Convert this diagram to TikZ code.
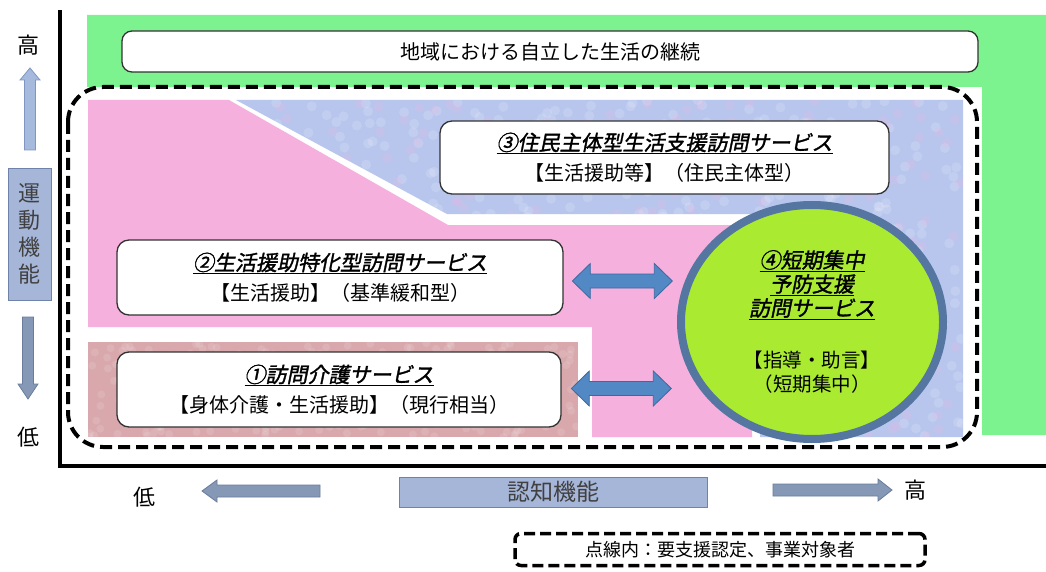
\documentclass[tikz,border=0pt]{standalone}
\usepackage{fontspec}
\newfontfamily\jp{Noto Sans CJK JP}
\newfontfamily\jpti[FakeSlant=0.2,FakeBold=1.5]{Noto Sans CJK JP}
\usetikzlibrary{shapes.geometric,calc}
\definecolor{grn}{RGB}{125,243,143}
\definecolor{pnk}{RGB}{245,176,222}
\definecolor{brn}{RGB}{216,168,172}
\definecolor{blu}{RGB}{184,198,238}
\definecolor{limec}{RGB}{170,235,50}
\definecolor{ring}{RGB}{84,118,160}
\definecolor{darr}{RGB}{82,136,196}
\definecolor{darrl}{RGB}{60,105,160}
\definecolor{garr}{RGB}{133,152,182}
\definecolor{garrl}{RGB}{105,124,155}
\definecolor{larr}{RGB}{166,186,222}
\definecolor{larrl}{RGB}{128,150,192}
\definecolor{lbl}{RGB}{166,182,216}
\definecolor{lbll}{RGB}{110,130,170}
\begin{document}
\begin{tikzpicture}[x=1pt,y=-1pt,
  svc/.style={draw=black!80, line width=1.3pt, fill=white, rounded corners=12pt,
    minimum width=446pt, minimum height=75pt, align=center, inner sep=0pt,
    font=\jp\fontsize{20}{30}\selectfont},
  dashbox/.style={draw=black, line width=4pt, dash pattern=on 12pt off 6pt},
  axlabel/.style={font=\jp\fontsize{22}{26}\selectfont, inner sep=0pt},
  lblbox/.style={draw=lbll, line width=0.8pt, fill=lbl, inner sep=0pt, text=black!75},
  garrow/.style={fill=garr, draw=garrl, line width=0.8pt},
  dbl/.pic={\filldraw[fill=darr,draw=darrl,line width=0.8pt]
    (-50,0) -- (-32,-17.5) -- (-32,-7) -- (32,-7) -- (32,-17.5) -- (50,0)
    -- (32,17.5) -- (32,7) -- (-32,7) -- (-32,17.5) -- cycle;}
]
\useasboundingbox (0,0) rectangle (1046,572);
\fill[white] (0,0) rectangle (1046,572);

% green L-shaped band
\fill[grn] (87,15) -- (1046,15) -- (1046,435) -- (982,435) -- (982,87) -- (87,87) -- cycle;

% blue mottled region
\begin{scope}
  \clip (236,100) -- (963,100) -- (963,437) -- (760,437) -- (760,214) -- (447,214) -- cycle;
  \fill[blu] (230,95) rectangle (970,440);
  \pgfmathsetseed{7}
  \foreach \i in {1,...,700}{
    \pgfmathsetmacro\xx{236+rnd*727}
    \pgfmathsetmacro\yy{100+rnd*337}
    \fill[white, opacity=0.15] (\xx,\yy) circle (5pt);
  }
  \foreach \i in {1,...,400}{
    \pgfmathsetmacro\xx{236+rnd*727}
    \pgfmathsetmacro\yy{100+rnd*337}
    \fill[pnk, opacity=0.18] (\xx,\yy) circle (5pt);
  }
\end{scope}

% pink region
\fill[pnk] (88,100) -- (229,100) -- (448,225) -- (752,225) -- (752,437) -- (592,437)
  -- (592,327) -- (88,327) -- cycle;

% brownish region
\begin{scope}
  \clip (88,342) rectangle (578,437);
  \fill[brn] (88,342) rectangle (578,437);
  \foreach \i in {1,...,300}{
    \pgfmathsetmacro\xx{88+rnd*490}
    \pgfmathsetmacro\yy{342+rnd*95}
    \fill[white, opacity=0.12] (\xx,\yy) circle (4pt);
  }
\end{scope}

% dashed frame
\draw[dashbox, rounded corners=35pt] (68,87) rectangle (977,447);

% axes
\draw[line width=4pt] (60,10) -- (60,466) -- (1046,466);

% top goal box
\node[draw=black!80, line width=1.3pt, fill=white, rounded corners=10pt,
  minimum width=856pt, minimum height=41pt, inner sep=0pt,
  font=\jp\fontsize{20}{24}\selectfont] (goal) at (550,51.5) {地域における自立した生活の継続};

% service boxes
\node[svc, minimum width=449pt, minimum height=73pt] (s3) at (664.5,157.5)
  {{\jpti\fontsize{21}{30}\selectfont\underline{③住民主体型生活支援訪問サービス}}\\【生活援助等】（住民主体型）};
\node[svc] (s2) at (340,277.5)
  {{\jpti\fontsize{21}{30}\selectfont\underline{②生活援助特化型訪問サービス}}\\【生活援助】（基準緩和型）};
\node[svc, minimum width=444pt] (s1) at (339,389.5)
  {{\jpti\fontsize{21}{30}\selectfont\underline{①訪問介護サービス}}\\【身体介護・生活援助】（現行相当）};

% circle
\node[ellipse, draw=ring, line width=8pt, fill=limec, minimum width=262pt,
  minimum height=234pt, inner sep=0pt, align=center,
  font=\jp\fontsize{19.5}{24}\selectfont] (s4) at (812,322)
  {{\jpti\fontsize{21}{24}\selectfont\underline{④短期集中}}\\
   {\jpti\fontsize{21}{24}\selectfont\underline{予防支援}}\\
   {\jpti\fontsize{21}{24}\selectfont\underline{訪問サービス}}\\[28pt]
   【指導・助言】\\（短期集中）};

% double arrows
\pic at ($(s2.east)!0.5!(s2.east -| s4.west)+(2,3.5)$) {dbl};
\pic at ($(s1.east)!0.5!(s1.east -| s4.west)+(2,-1)$) {dbl};

% vertical axis labels
\node[axlabel] (yhi) at (28,45) {高};
\filldraw[fill=larr, draw=larrl, line width=0.8pt]
  (30,68) -- (40,80) -- (35.5,80) -- (35.5,150) -- (24.5,150) -- (24.5,80) -- (20,80) -- cycle;
\node[lblbox, minimum width=43pt, minimum height=132pt, align=center,
  font=\jp\fontsize{22}{27}\selectfont] (ylab) at (29.5,234) {運\\動\\機\\能};
\filldraw[garrow]
  (28,399) -- (38,384) -- (33.5,384) -- (33.5,317) -- (22.5,317) -- (22.5,384) -- (18,384) -- cycle;
\node[axlabel] (ylo) at (28,437) {低};

% horizontal axis labels
\node[axlabel] (xlo) at (144,497) {低};
\filldraw[garrow]
  (202,491) -- (217,480) -- (217,485) -- (320,485) -- (320,497) -- (217,497) -- (217,502) -- cycle;
\node[lblbox, minimum width=308pt, minimum height=30pt,
  font=\jp\fontsize{23}{26}\selectfont] (xlab) at (553,492) {認知機能};
\filldraw[garrow]
  (892,490) -- (878,479) -- (878,484) -- (773,484) -- (773,496) -- (878,496) -- (878,501) -- cycle;
\node[axlabel] (xhi) at (915,490) {高};

% legend
\node[draw=black, line width=3.5pt, dash pattern=on 11pt off 5pt, rounded corners=6pt,
  minimum width=410pt, minimum height=32pt, inner sep=0pt,
  font=\jp\fontsize{18}{20}\selectfont] (legend) at (720,549.5) {点線内：要支援認定、事業対象者};
\end{tikzpicture}
\end{document}
